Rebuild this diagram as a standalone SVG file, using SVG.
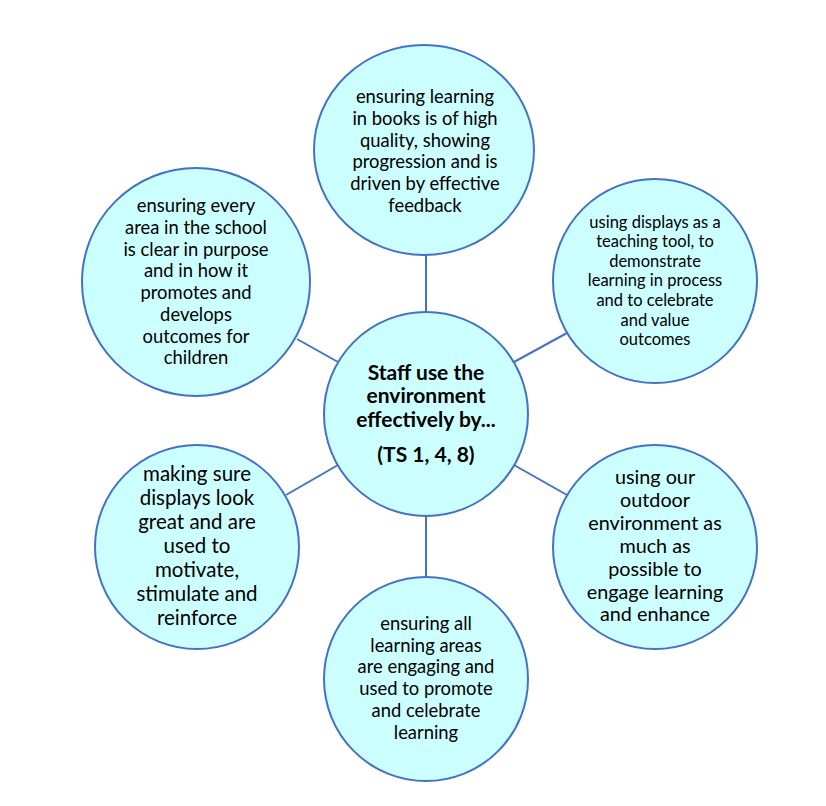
<svg xmlns="http://www.w3.org/2000/svg" width="826" height="806" viewBox="0 0 826 806">
<style>
.node{fill:#CCFFFF;stroke:#4472C4;stroke-width:2}
.conn{stroke:#4472C4;stroke-width:2;fill:none}
text{font-family:Lato,"Open Sans","Liberation Sans",sans-serif;fill:#000;text-anchor:middle}
.b{font-weight:bold;font-size:21px}
</style>
<rect width="826" height="806" fill="#fff"/>
<g id="connectors">
<line class="conn" x1="426" y1="255" x2="426" y2="313"/>
<line class="conn" x1="297" y1="339" x2="338" y2="362"/>
<line class="conn" x1="567" y1="333" x2="514" y2="362"/>
<line class="conn" x1="286" y1="495" x2="338" y2="465"/>
<line class="conn" x1="567" y1="495" x2="514" y2="465"/>
<line class="conn" x1="426" y1="516" x2="426" y2="577"/>
</g>
<g id="center">
<circle class="node" cx="426" cy="414" r="102"/>
<text class="b" x="426" y="380">Staff use the</text>
<text class="b" x="426" y="403">environment</text>
<text class="b" x="426" y="427">effectively by...</text>
<text class="b" x="426" y="462">(TS 1, 4, 8)</text>
</g>
<g id="top" font-size="18.4">
<ellipse class="node" cx="424" cy="150" rx="110" ry="105"/>
<text x="425" y="103">ensuring learning</text>
<text x="425" y="125">in books is of high</text>
<text x="425" y="147">quality, showing</text>
<text x="425" y="168">progression and is</text>
<text x="425" y="190">driven by effective</text>
<text x="425" y="212">feedback</text>
</g>
<g id="top-left" font-size="18.4">
<circle class="node" cx="196" cy="282" r="114"/>
<text x="196" y="212">ensuring every</text>
<text x="196" y="234">area in the school</text>
<text x="196" y="256">is clear in purpose</text>
<text x="196" y="277">and in how it</text>
<text x="196" y="299">promotes and</text>
<text x="196" y="321">develops</text>
<text x="196" y="343">outcomes for</text>
<text x="196" y="364">children</text>
</g>
<g id="top-right" font-size="16.5">
<circle class="node" cx="655" cy="281" r="102"/>
<text x="655" y="228">using displays as a</text>
<text x="655" y="247">teaching tool, to</text>
<text x="655" y="267">demonstrate</text>
<text x="655" y="286">learning in process</text>
<text x="655" y="306">and to celebrate</text>
<text x="655" y="326">and value</text>
<text x="655" y="345">outcomes</text>
</g>
<g id="bottom-left" font-size="20.5">
<circle class="node" cx="197" cy="547" r="102"/>
<text x="197" y="481">making sure</text>
<text x="197" y="505">displays look</text>
<text x="197" y="529">great and are</text>
<text x="197" y="553">used to</text>
<text x="197" y="577">motivate,</text>
<text x="197" y="601">stimulate and</text>
<text x="197" y="625">reinforce</text>
</g>
<g id="bottom-right" font-size="19.8">
<circle class="node" cx="655" cy="547" r="102"/>
<text x="655" y="484">using our</text>
<text x="655" y="507">outdoor</text>
<text x="655" y="530">environment as</text>
<text x="655" y="553">much as</text>
<text x="655" y="576">possible to</text>
<text x="655" y="599">engage learning</text>
<text x="655" y="621">and enhance</text>
</g>
<g id="bottom" font-size="18.4">
<circle class="node" cx="426" cy="679" r="102"/>
<text x="426" y="630">ensuring all</text>
<text x="426" y="652">learning areas</text>
<text x="426" y="673">are engaging and</text>
<text x="426" y="695">used to promote</text>
<text x="426" y="717">and celebrate</text>
<text x="426" y="739">learning</text>
</g>
</svg>
